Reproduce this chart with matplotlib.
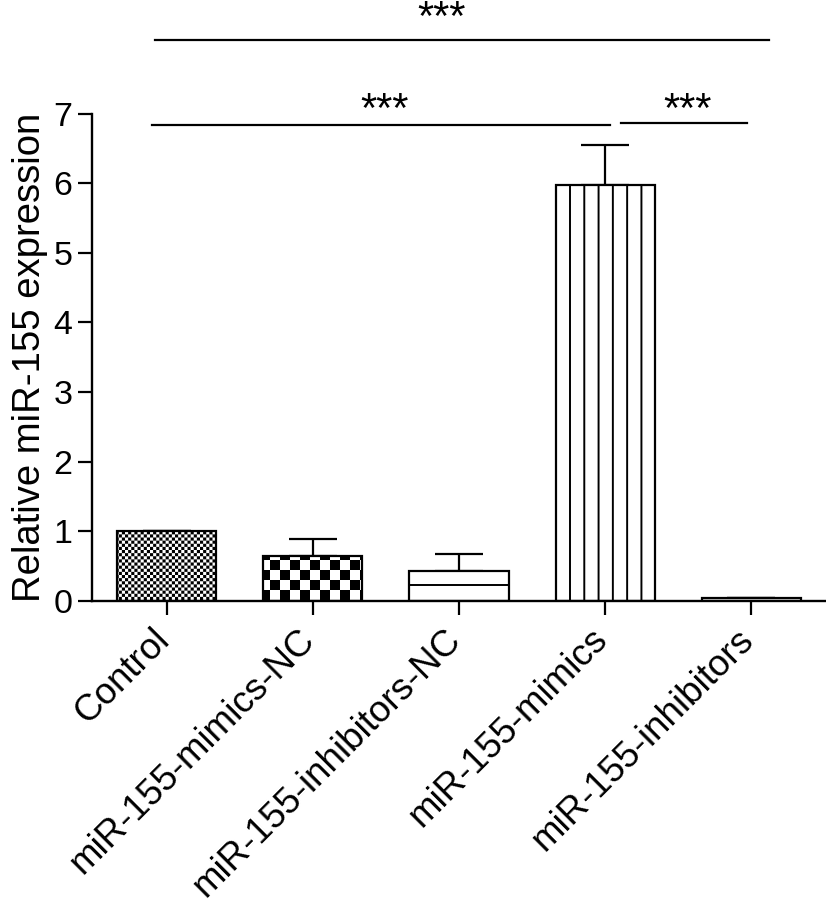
import warnings
warnings.filterwarnings("ignore")
import numpy as np
import matplotlib
matplotlib.use("Agg")
import matplotlib.pyplot as plt
import matplotlib.hatch as mhatch
from matplotlib.path import Path

# ---------------- data ----------------
categories = ["Control", "miR-155-mimics-NC", "miR-155-inhibitors-NC",
              "miR-155-mimics", "miR-155-inhibitors"]
means = [1.00, 0.646, 0.43, 5.98, 0.04]
errors = [0.00, 0.244, 0.245, 0.57, 0.01]
yticks = [0, 1, 2, 3, 4, 5, 6, 7]
ylabel = "Relative miR-155 expression"
comparisons = [(0, 4, "***"), (0, 3, "***"), (3, 4, "***")]

# ---------------- custom hatches ----------------
HATCH_LW = 1.4  # points
plt.rcParams["hatch.linewidth"] = HATCH_LW
plt.rcParams["hatch.color"] = "black"
DPI = 100
_orig_get_path = mhatch.get_path
CHECKERS = {"k": 32, "K": 10}


def _checker_path(n):
    shrink = (HATCH_LW * DPI / 72.0) / 2.0 / DPI
    c = 1.0 / n
    verts, codes = [], []
    for i in range(n):
        for j in range(n):
            if (i + j) % 2 == 0:
                x0, y0 = i * c + shrink, j * c + shrink
                x1, y1 = (i + 1) * c - shrink, (j + 1) * c - shrink
                verts += [(x0, y0), (x1, y0), (x1, y1), (x0, y1), (x0, y0)]
                codes += [Path.MOVETO, Path.LINETO, Path.LINETO,
                          Path.LINETO, Path.CLOSEPOLY]
    return Path(verts, codes)


def _lines_path(n, phase, vertical):
    verts, codes = [], []
    for k in range(n):
        p = (phase + k / n) % 1.0
        if vertical:
            verts += [(p, -0.05), (p, 1.05)]
        else:
            verts += [(-0.05, p), (1.05, p)]
        codes += [Path.MOVETO, Path.LINETO]
    return Path(verts, codes)


def _get_path(hatchpattern, density=6):
    if hatchpattern in CHECKERS:
        return _checker_path(CHECKERS[hatchpattern])
    if hatchpattern == "v":
        return _lines_path(7, 0.70, True)
    if hatchpattern == "h":
        return _lines_path(6, 0.15, False)
    return _orig_get_path(hatchpattern, density)


mhatch.get_path = _get_path

# ---------------- plot ----------------
plt.rcParams["font.family"] = ["Liberation Sans", "DejaVu Sans"]

fig = plt.figure(figsize=(8.26, 9.02), dpi=DPI)
ax = fig.add_axes([92 / 826, 301 / 902, 734 / 826, 487.5 / 902])

x = np.arange(len(categories))
hatches = ["k", "K", "h", "v", ""]
bars = ax.bar(x, means, width=0.68, color="white", edgecolor="black",
              linewidth=1.6, zorder=2)
for b, h in zip(bars, hatches):
    b.set_hatch(h)

ax.errorbar(x, means, yerr=[np.zeros(len(errors)), errors], fmt="none",
            ecolor="black", elinewidth=1.6, capsize=17, capthick=1.6, zorder=1)

ax.set_xlim(-0.51, 4.51)
ax.set_ylim(0, 7)
ax.set_yticks(yticks)
ax.set_yticklabels([str(t) for t in yticks], fontsize=24.5)
ax.set_xticks(x)
ax.set_xticklabels([])
for xi, cat in zip(x, categories):
    ax.annotate(cat, xy=(xi, 0), xycoords=ax.get_xaxis_transform(),
                xytext=(-11, -15), textcoords="offset points",
                rotation=45, ha="right", va="top", rotation_mode="anchor",
                fontsize=26.5, annotation_clip=False)
ax.set_ylabel(ylabel, fontsize=27.5, labelpad=4)
for s in ["top", "right"]:
    ax.spines[s].set_visible(False)
for s in ["left", "bottom"]:
    ax.spines[s].set_linewidth(1.7)
ax.tick_params(axis="both", length=10, width=1.6, pad=4)

# significance annotations (line level, x-start, x-end, star x, star baseline)
levels = [(8.06, -0.08, 4.12, 1.88, 8.20),
          (6.83, -0.10, 3.03, 1.49, 6.88),
          (6.87, 3.11, 3.97, 3.56, 6.88)]
for (i, j, lab), (yl, x0, x1, xs, ys) in zip(comparisons, levels):
    ax.plot([x0, x1], [yl, yl], color="black", lw=1.6, clip_on=False)
    ax.text(xs, ys, lab, ha="center", va="baseline",
            fontsize=30, clip_on=False)

fig.savefig("out.png", dpi=DPI)
